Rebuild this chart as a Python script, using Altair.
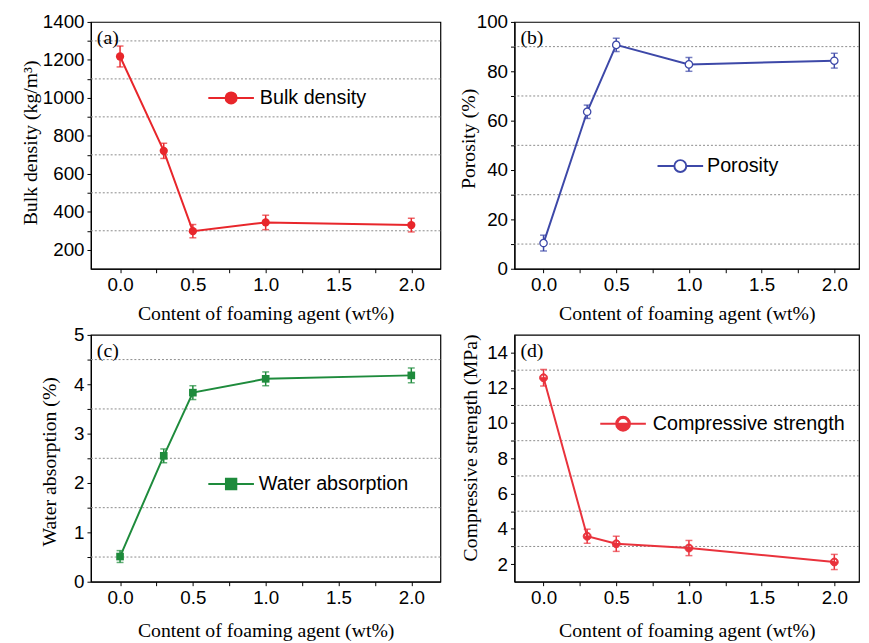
import altair as alt
import pandas as pd

# ---------------- data ----------------
content = [0.0, 0.3, 0.5, 1.0, 2.0]

bulk_density = [1218, 721, 298, 344, 330]
bulk_err = [55, 40, 35, 38, 36]

porosity = [10.4, 63.6, 90.7, 82.8, 84.3]
porosity_err = [3.2, 2.7, 2.7, 2.8, 3.0]

water_abs = [0.51, 2.55, 3.83, 4.11, 4.18]
water_err = [0.12, 0.14, 0.14, 0.14, 0.15]

comp_strength = [12.57, 3.58, 3.15, 2.91, 2.12]
comp_err = [0.47, 0.40, 0.43, 0.43, 0.43]

x_tick_values = [0.0, 0.25, 0.5, 0.75, 1.0, 1.25, 1.5, 1.75, 2.0]

ya_ticks = list(range(200, 1401, 100))
yb_ticks = list(range(0, 101, 10))
yc_ticks = [0, 0.5, 1, 1.5, 2, 2.5, 3, 3.5, 4, 4.5, 5]
yd_ticks = list(range(2, 15))

grid_a = [300, 500, 700, 900, 1100, 1300]
grid_b = [10, 30, 50, 70, 90]
grid_c = [0.5, 1.5, 2.5, 3.5, 4.5]
grid_d = [3, 5, 7, 9, 11, 13]

RED = "#e8262b"
BLUE = "#3d48a8"
GREEN = "#1e8b3c"
RED2 = "#e9323c"

SANS = "Liberation Sans"
SERIF = "Liberation Serif"

# legend symbols: line + marker (unit coords, 7 px per unit)
SYM_CIRCLE = ("M-3.3,0L-0.8,0M0.8,0L3.3,0"
              "M-0.8,0A0.8,0.8,0,1,1,0.8,0A0.8,0.8,0,1,1,-0.8,0Z")
SYM_OPEN = ("M-3.3,0L-0.86,0M0.86,0L3.3,0"
            "M-0.86,0A0.86,0.86,0,1,1,0.86,0A0.86,0.86,0,1,1,-0.86,0Z")
SYM_SQUARE = ("M-3.3,0L-0.75,0M0.75,0L3.3,0"
              "M-0.75,-0.75L0.75,-0.75L0.75,0.75L-0.75,0.75Z")
SYM_HALF = ("M-3.3,0L-1,0M1,0L3.3,0"
            "M-1,0A1,1,0,1,1,1,0A1,1,0,1,1,-1,0Z"
            "M-0.82,0L0.82,0A0.82,0.82,0,0,0,-0.82,0Z")
# plot marker for panel (d): circle with open top half, filled bottom half
PT_HALF = ("M-1,0A1,1,0,1,1,1,0A1,1,0,1,1,-1,0Z"
           "M-0.72,0L0.72,0A0.72,0.72,0,0,0,-0.72,0Z")


def panel(values, errs, name, color, ydom, yticks, ylabel_mod, ygrid, ytitle,
          title_x, title_y, letter, leg_x, leg_y, leg_off, sym, sym_fill,
          point_kind, xdom, width, xtitle_pad):
    df = pd.DataFrame({
        "x": content,
        "y": values,
        "lo": [v - e for v, e in zip(values, errs)],
        "hi": [v + e for v, e in zip(values, errs)],
        "series": [name] * len(content),
    })
    gdf = pd.DataFrame({"g": ygrid})
    xs = alt.Scale(domain=xdom, nice=False, zero=False)
    ys = alt.Scale(domain=ydom, nice=False, zero=False)

    ylab = f"datum.value % {ylabel_mod} == 0 ? format(datum.value, 'd') : ''"

    x_axis = alt.Axis(
        values=x_tick_values,
        labelExpr="datum.value % 0.5 == 0 ? format(datum.value, '.1f') : ''",
        title="Content of foaming agent (wt%)",
        titlePadding=xtitle_pad,
        grid=False,
    )
    y_axis = alt.Axis(
        values=yticks,
        labelExpr=ylab,
        title=ytitle,
        titleX=title_x,
        titleY=title_y,
        titleBaseline="middle",
        grid=False,
    )

    def X(f):
        return alt.X(f, scale=xs, axis=x_axis)

    def Y(f):
        return alt.Y(f, scale=ys, axis=y_axis)

    grid = alt.Chart(gdf).mark_rule(
        color="#8a8a8a", strokeDash=[2, 2], strokeWidth=1
    ).encode(y=Y("g:Q"))

    bars = alt.Chart(df).mark_rule(color=color, strokeWidth=1.5).encode(
        x=X("x:Q"), y=Y("lo:Q"), y2="hi:Q",
    )
    cap_lo = alt.Chart(df).mark_tick(
        color=color, orient="horizontal", size=7, thickness=1.5
    ).encode(x=X("x:Q"), y=Y("lo:Q"))
    cap_hi = alt.Chart(df).mark_tick(
        color=color, orient="horizontal", size=7, thickness=1.5
    ).encode(x=X("x:Q"), y=Y("hi:Q"))

    line = alt.Chart(df).mark_line(color=color, strokeWidth=2).encode(
        x=X("x:Q"), y=Y("y:Q"),
    )

    legend = alt.Legend(
        orient="none", legendX=leg_x, legendY=leg_y, title=None,
        symbolType=sym, symbolSize=196, symbolStrokeWidth=2,
        symbolStrokeColor=color, symbolFillColor=sym_fill,
        labelFont=SANS, labelFontSize=20, labelColor="black",
        labelOffset=leg_off, labelLimit=400, padding=0,
    )
    color_enc = alt.Color("series:N",
                          scale=alt.Scale(domain=[name], range=[color]),
                          legend=legend)

    if point_kind == "filled_circle":
        pmark = alt.Chart(df).mark_point(shape="circle", filled=True, size=70,
                                         opacity=1)
    elif point_kind == "open_circle":
        pmark = alt.Chart(df).mark_point(shape="circle", filled=False, size=55,
                                         fill="white", strokeWidth=1.3,
                                         opacity=1)
    elif point_kind == "square":
        pmark = alt.Chart(df).mark_point(shape="square", filled=True, size=60,
                                         opacity=1)
    else:
        pmark = alt.Chart(df).mark_point(shape=PT_HALF, filled=True, size=64,
                                         stroke=color, strokeWidth=1,
                                         opacity=1)
    points = pmark.encode(x=X("x:Q"), y=Y("y:Q"), color=color_enc)

    label = alt.Chart(pd.DataFrame({"t": [letter]})).mark_text(
        font=SERIF, fontSize=20, align="left", baseline="top", color="black"
    ).encode(text="t:N", x=alt.value(6), y=alt.value(6))

    return alt.layer(grid, bars, cap_lo, cap_hi, line, points, label).properties(
        width=width, height=250
    )


pa = panel(bulk_density, bulk_err, "Bulk density", RED, [100, 1400], ya_ticks,
           200, grid_a, "Bulk density (kg/m³)", -61, 122, "(a)",
           132, 67, 19, SYM_CIRCLE, RED, "filled_circle", [-0.2, 2.2], 354, 9)
pb = panel(porosity, porosity_err, "Porosity", BLUE, [0, 100], yb_ticks,
           20, grid_b, "Porosity (%)", -46, 118, "(b)",
           158, 136, 17, SYM_OPEN, "white", "open_circle", [-0.2, 2.17], 349, 9)
pc = panel(water_abs, water_err, "Water absorption", GREEN, [0, 5], yc_ticks,
           1, grid_c, "Water absorption (%)", -42, 128, "(c)",
           132, 141, 18, SYM_SQUARE, GREEN, "square", [-0.2, 2.2], 354, 14)
pd_ = panel(comp_strength, comp_err, "Compressive strength", RED2, [1, 15],
            yd_ticks, 2, grid_d, "Compressive strength (MPa)", -44, 114, "(d)",
            100, 80, 20, SYM_HALF, RED2, "half", [-0.2, 2.17], 349, 14)

chart = alt.concat(
    pa, pb, pc, pd_, columns=2, spacing={"row": 67, "column": 75}, bounds="flush"
).resolve_scale(color="independent").properties(
    padding={"left": 12, "top": 0, "right": 0, "bottom": 0}
).configure_view(
    stroke="black", strokeWidth=1.2
).configure_axis(
    labelFont=SANS, labelFontSize=19, labelColor="black",
    titleFont=SERIF, titleFontSize=20, titleFontWeight="normal",
    titleColor="black", domainColor="black", domainWidth=1.2,
    tickColor="black", tickSize=4, tickWidth=1, labelPadding=3,
).configure_legend(
    labelFont=SANS, labelFontSize=20,
)

chart.save("out.html", embed_options={"renderer": "svg", "actions": False})
